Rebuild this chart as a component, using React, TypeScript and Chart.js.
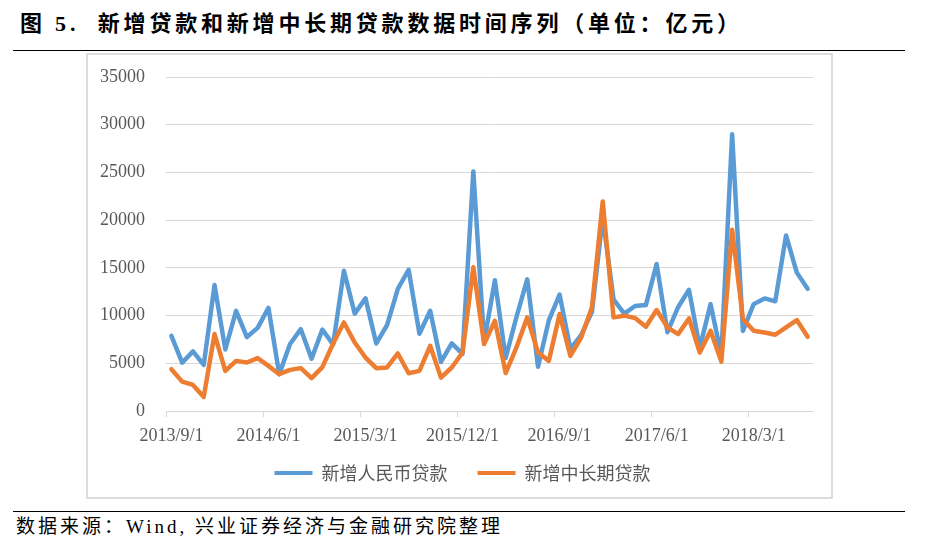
import React, { useEffect, useRef } from "react";
import { Chart, registerables } from "chart.js";

Chart.register(...registerables);

const months = [
  "2013/9/1", "2013/10/1", "2013/11/1", "2013/12/1",
  "2014/1/1", "2014/2/1", "2014/3/1", "2014/4/1", "2014/5/1", "2014/6/1",
  "2014/7/1", "2014/8/1", "2014/9/1", "2014/10/1", "2014/11/1", "2014/12/1",
  "2015/1/1", "2015/2/1", "2015/3/1", "2015/4/1", "2015/5/1", "2015/6/1",
  "2015/7/1", "2015/8/1", "2015/9/1", "2015/10/1", "2015/11/1", "2015/12/1",
  "2016/1/1", "2016/2/1", "2016/3/1", "2016/4/1", "2016/5/1", "2016/6/1",
  "2016/7/1", "2016/8/1", "2016/9/1", "2016/10/1", "2016/11/1", "2016/12/1",
  "2017/1/1", "2017/2/1", "2017/3/1", "2017/4/1", "2017/5/1", "2017/6/1",
  "2017/7/1", "2017/8/1", "2017/9/1", "2017/10/1", "2017/11/1", "2017/12/1",
  "2018/1/1", "2018/2/1", "2018/3/1", "2018/4/1", "2018/5/1", "2018/6/1",
  "2018/7/1", "2018/8/1",
];

const tickLabels = ["2013/9/1", "2014/6/1", "2015/3/1", "2015/12/1", "2016/9/1", "2017/6/1", "2018/3/1"];

// 新增人民币贷款
const newRmbLoans = [
  7870, 5061, 6246, 4825,
  13200, 6445, 10500, 7747, 8708, 10800, 3852, 7025, 8572, 5483, 8527, 6973,
  14700, 10200, 11800, 7079, 9008, 12800, 14800, 8096, 10500, 5136, 7089, 5978,
  25100, 7266, 13700, 5556, 9855, 13800, 4636, 9487, 12200, 6513, 7946, 10400,
  20300, 11700, 10200, 11000, 11100, 15400, 8255, 10900, 12700, 6632, 11200, 5844,
  29000, 8393, 11200, 11800, 11500, 18400, 14500, 12800,
];

// 新增中长期贷款
const newMltLoans = [
  4380, 3080, 2730, 1470,
  8060, 4200, 5250, 5080, 5540, 4730, 3860, 4310, 4490, 3440, 4600, 7070,
  9280, 7180, 5600, 4490, 4560, 6030, 3960, 4200, 6830, 3500, 4560, 6130,
  15060, 7010, 9460, 3980, 6660, 9810, 6130, 5250, 10160, 5780, 7700, 10860,
  21950, 9810, 9990, 9740, 8830, 10580, 8760, 8060, 9700, 6130, 8410, 5180,
  18990, 9640, 8410, 8230, 7990, 8760, 9530, 7780,
];

const seriesNames = ["新增人民币贷款", "新增中长期贷款"];
const seriesColors = ["#5B9BD5", "#ED7D31"];

const TITLE = "图 5.  新增贷款和新增中长期贷款数据时间序列（单位：亿元）";
const SOURCE = "数据来源：Wind, 兴业证券经济与金融研究院整理";

const axisFont = { family: '"Liberation Serif", "Times New Roman", serif', size: 18 };

export default function App() {
  const ref = useRef<HTMLCanvasElement>(null);

  useEffect(() => {
    const chart = new Chart(ref.current as HTMLCanvasElement, {
      type: "line",
      data: {
        labels: months,
        datasets: [
          {
            label: seriesNames[0],
            data: newRmbLoans,
            borderColor: seriesColors[0],
            backgroundColor: seriesColors[0],
            borderWidth: 4.5,
            pointRadius: 0,
            tension: 0,
            borderJoinStyle: "round",
            borderCapStyle: "round",
            order: 1,
          },
          {
            label: seriesNames[1],
            data: newMltLoans,
            borderColor: seriesColors[1],
            backgroundColor: seriesColors[1],
            borderWidth: 4.5,
            pointRadius: 0,
            tension: 0,
            borderJoinStyle: "round",
            borderCapStyle: "round",
            order: 0,
          },
        ],
      },
      options: {
        animation: false,
        responsive: false,
        layout: { padding: { left: 24, right: 18, top: 21, bottom: 5 } },
        plugins: {
          tooltip: { enabled: false },
          legend: {
            position: "bottom",
            labels: {
              boxWidth: 38,
              boxHeight: 4,
              padding: 30,
              color: "#595959",
              font: { family: '"Noto Sans CJK SC", sans-serif', size: 18 },
              generateLabels: (c: any) =>
                c.data.datasets.map((ds: any, i: number) => ({
                  text: ds.label,
                  fillStyle: ds.borderColor,
                  strokeStyle: ds.borderColor,
                  lineWidth: 0,
                  hidden: false,
                  datasetIndex: i,
                  fontColor: "#595959",
                })),
            },
          },
        },
        scales: {
          x: {
            offset: true,
            grid: {
              offset: true,
              drawOnChartArea: false,
              drawTicks: true,
              tickLength: 6,
              color: (ctx: any) =>
                typeof ctx.index === "number" && ctx.index % 9 === 0 ? "#d9d9d9" : "rgba(0,0,0,0)",
            },
            border: { display: true, color: "#d9d9d9", width: 1 },
            ticks: {
              autoSkip: false,
              maxRotation: 0,
              minRotation: 0,
              padding: 8,
              color: "#595959",
              font: axisFont,
              callback: (_v: any, i: number) => (tickLabels.includes(months[i]) ? months[i] : ""),
            },
            afterFit: (s: any) => {
              s.height = 23;
              s.paddingLeft = 0;
              s.paddingRight = 0;
              s._computeLabelArea = () => undefined;
            },
          },
          y: {
            min: 0,
            max: 35000,
            ticks: {
              stepSize: 5000,
              padding: 21,
              color: "#595959",
              font: axisFont,
              callback: (v: any) => String(v),
            },
            grid: { color: "#d9d9d9", drawTicks: false },
            border: { display: false },
            afterFit: (s: any) => {
              s.width = 54;
              s.paddingTop = 0;
              s.paddingBottom = 0;
              s._computeLabelArea = () => undefined;
            },
          },
        },
      },
    });
    return () => chart.destroy();
  }, []);

  return (
    <div
      style={{
        position: "fixed",
        left: 0,
        top: 0,
        width: 926,
        height: 552,
        background: "#fff",
        overflow: "hidden",
      }}
    >
      <div
        style={{
          position: "absolute",
          left: 20,
          top: 13,
          fontFamily: '"Liberation Serif", "Noto Sans CJK SC", serif',
          fontWeight: 700,
          fontSize: 22,
          lineHeight: "22px",
          letterSpacing: "3.8px",
          whiteSpace: "pre",
          color: "#000",
        }}
      >
        {TITLE}
      </div>
      <div style={{ position: "absolute", left: 13, top: 50, width: 892, height: 0, borderTop: "1.5px solid #000" }} />
      <div
        style={{
          position: "absolute",
          left: 86,
          top: 53,
          width: 747,
          height: 446,
          border: "2px solid #dcdcdc",
          boxSizing: "border-box",
        }}
      />
      <div style={{ position: "absolute", left: 88, top: 56, width: 743, height: 441 }}>
        <canvas ref={ref} width={743} height={441} style={{ width: 743, height: 441, display: "block" }} />
      </div>
      <div style={{ position: "absolute", left: 13, top: 511, width: 892, height: 0, borderTop: "1.5px solid #000" }} />
      <div
        style={{
          position: "absolute",
          left: 16,
          top: 517,
          fontFamily: '"Liberation Serif", "Noto Sans CJK SC", serif',
          fontSize: 19,
          lineHeight: "20px",
          letterSpacing: "3px",
          whiteSpace: "pre",
          color: "#000",
        }}
      >
        {SOURCE}
      </div>
    </div>
  );
}
